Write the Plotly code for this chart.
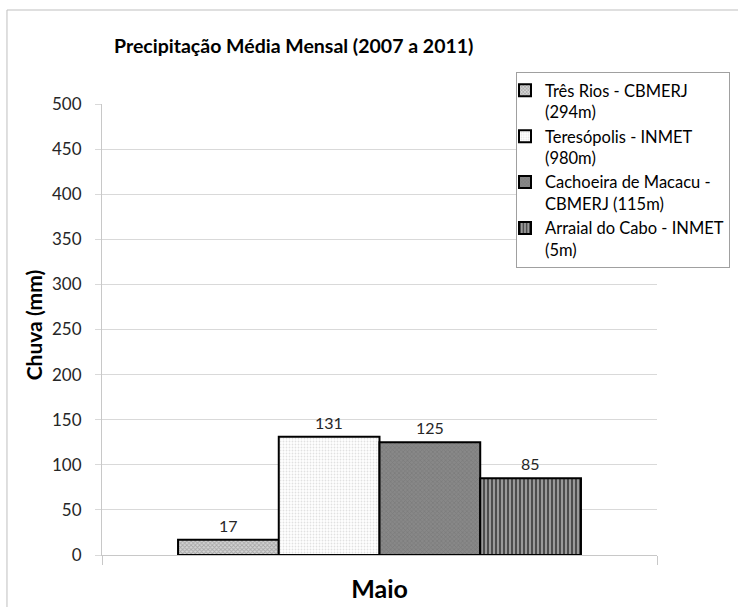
import plotly.graph_objects as go

# Average monthly rainfall, May (2007-2011)
categories = ["Maio"]
stations = [
    "Três Rios - CBMERJ<br>(294m)",
    "Teresópolis - INMET<br>(980m)",
    "Cachoeira de Macacu -<br>CBMERJ (115m)",
    "Arraial do Cabo - INMET<br>(5m)",
]
rain_mm = [17, 131, 125, 85]
y_ticks = [0, 50, 100, 150, 200, 250, 300, 350, 400, 450, 500]

# fill patterns for each station (monochrome print style)
patterns = [
    dict(shape="x", fgcolor="#7a7a7a", bgcolor="#d4d4d4", size=3, solidity=0.5),
    dict(shape=".", fgcolor="#c4c4c4", bgcolor="#ffffff", size=3, solidity=0.3),
    dict(shape="x", fgcolor="#6c6c6c", bgcolor="#888888", size=3, solidity=0.4),
    dict(shape="|", fgcolor="#000000", bgcolor="#9a9a9a", size=4, solidity=0.5),
]

FONT = "Lato"
BARGAP = 0.274

fig = go.Figure()
for name, val, pat in zip(stations, rain_mm, patterns):
    fig.add_trace(go.Bar(
        x=categories,
        y=[val],
        name=name,
        marker=dict(color=pat["bgcolor"], pattern=pat,
                    line=dict(color="#000000", width=2)),
    ))

# value labels above each bar (grouped bar centres within the category)
n = len(rain_mm)
bar_w = (1 - BARGAP) / n
value_labels = []
for i, val in enumerate(rain_mm):
    value_labels.append(dict(
        x=-(1 - BARGAP) / 2 + (i + 0.5) * bar_w,
        y=val,
        xref="x", yref="y",
        text=str(val),
        showarrow=False,
        yanchor="bottom",
        yshift=3,
        font=dict(family=FONT, size=16, color="#262626"),
    ))

fig.update_layout(
    width=738,
    height=607,
    margin=dict(l=102, r=81, t=104, b=52, autoexpand=False),
    paper_bgcolor="white",
    plot_bgcolor="white",
    barmode="group",
    bargap=BARGAP,
    bargroupgap=0,
    font=dict(family=FONT, color="#262626"),
    title=dict(
        text="<b>Precipitação Média Mensal (2007 a 2011)</b>",
        font=dict(family=FONT, size=19.5, color="#000000"),
        xref="container", yref="container",
        x=0.398, xanchor="center",
        y=0.924, yanchor="middle",
    ),
    xaxis=dict(
        type="category",
        range=[-0.5, 0.5],
        showline=True, linecolor="#c8c8c8", linewidth=1,
        ticks="outside", tickson="boundaries", ticklen=9, tickcolor="#c8c8c8",
        tickfont=dict(family=FONT, size=25, color="#000000"),
        tickprefix="<b>", ticksuffix="</b>",
        ticklabelstandoff=12,
    ),
    yaxis=dict(
        range=[0, 500],
        tickvals=y_ticks,
        showgrid=True, gridcolor="#d9d9d9", gridwidth=1,
        showline=True, linecolor="#c8c8c8", linewidth=1,
        ticks="outside", ticklen=6, tickcolor="#d9d9d9",
        tickfont=dict(family=FONT, size=17, color="#262626"),
        ticklabelstandoff=10,
        zeroline=False,
    ),
    legend=dict(
        x=(516 - 102) / 555, xanchor="left",
        y=(555 - 72) / 451, yanchor="top",
        bgcolor="white",
        bordercolor="#a0a0a0", borderwidth=1,
        font=dict(family=FONT, size=16.5, color="#000000"),
        valign="top",
        tracegroupgap=0,
        itemwidth=30,
        indentation=-12,
    ),
    showlegend=True,
    annotations=value_labels + [
        dict(
            text="<b>Chuva (mm)</b>",
            textangle=-90,
            xref="paper", yref="paper",
            x=-0.122, y=0.51,
            xanchor="center", yanchor="middle",
            showarrow=False,
            font=dict(family=FONT, size=21, color="#000000"),
        )
    ],
    shapes=[
        # chart-area frame
        dict(type="rect", xref="paper", yref="paper",
             x0=-0.1712, x1=1.3, y0=-0.3, y1=1.2084,
             line=dict(color="#bfbfbf", width=1), fillcolor="rgba(0,0,0,0)",
             layer="below"),
    ],
)

fig.write_html("out.html")
